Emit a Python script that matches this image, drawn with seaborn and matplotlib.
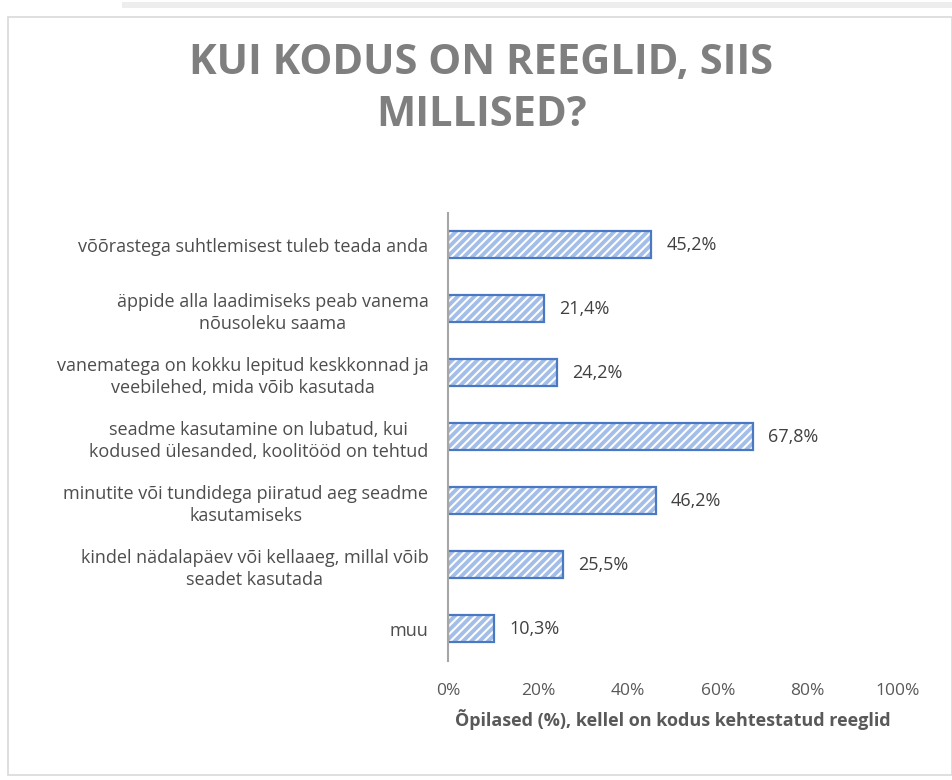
import matplotlib
matplotlib.use("Agg")
import matplotlib.pyplot as plt
import seaborn as sns
import pandas as pd
from matplotlib.patches import Rectangle

categories = [
    "võõrastega suhtlemisest tuleb teada anda",
    "äppide alla laadimiseks peab vanema\nnõusoleku saama",
    "vanematega on kokku lepitud keskkonnad ja\nveebilehed, mida võib kasutada",
    "seadme kasutamine on lubatud, kui\nkodused ülesanded, koolitööd on tehtud",
    "minutite või tundidega piiratud aeg seadme\nkasutamiseks",
    "kindel nädalapäev või kellaaeg, millal võib\nseadet kasutada",
    "muu",
]
values = [45.2, 21.4, 24.2, 67.8, 46.2, 25.5, 10.3]
xticks = [0, 20, 40, 60, 80, 100]
title = "KUI KODUS ON REEGLID, SIIS\nMILLISED?"
xlabel = "Õpilased (%), kellel on kodus kehtestatud reeglid"

df = pd.DataFrame({"cat": categories, "val": values})

sns.set_theme(style="white")
plt.rcParams["font.family"] = ["Open Sans", "DejaVu Sans"]
plt.rcParams["hatch.color"] = "white"
plt.rcParams["hatch.linewidth"] = 1.5

fig = plt.figure(figsize=(9.53, 7.80), dpi=100)
ax = fig.add_axes([0.470, 0.153, 0.472, 0.574])

# hatched fill
sns.barplot(data=df, x="val", y="cat", ax=ax, color="#A3BEE8", width=0.42,
            saturation=1, linewidth=0)
for p in ax.patches:
    p.set_hatch("////")
    p.set_edgecolor("white")
    p.set_linewidth(0)
# outline
sns.barplot(data=df, x="val", y="cat", ax=ax, fill=False, width=0.42,
            edgecolor="#4A78C2", linewidth=1.6)

labels = [f"{v:.1f}".replace(".", ",") + "%" for v in values]
ax.bar_label(ax.containers[1], labels=labels, padding=11, fontsize=13, color="#404040")

ax.set_xlim(0, 100)
ax.set_xticks(xticks)
ax.set_xticklabels([f"{t}%" for t in xticks], fontsize=12.5, color="#595959")
ax.tick_params(axis="x", length=0, pad=16)
ax.tick_params(axis="y", length=0, pad=14)
for t in ax.get_yticklabels():
    t.set_fontsize(13)
    t.set_color("#4D4D4D")
    t.set_multialignment("center")
    t.set_linespacing(1.3)
ax.set_ylabel("")
ax.set_xlabel(xlabel, fontsize=13, fontweight="bold", color="#595959", labelpad=7)
for s in ["top", "right", "bottom"]:
    ax.spines[s].set_visible(False)
ax.spines["left"].set_color("#A6A6A6")
ax.spines["left"].set_linewidth(1.5)
ax.grid(False)

fig.text(0.505, 0.885, title, ha="center", va="center", fontsize=30,
         fontweight="bold", color="#7F7F7F", linespacing=1.35,
         family=["Open Sans", "DejaVu Sans"])

fig.patches.append(Rectangle((8 / 953, 5 / 780), 944 / 953, 758 / 780,
                             transform=fig.transFigure, fill=False,
                             edgecolor="#D9D9D9", linewidth=1.2))
fig.patches.append(Rectangle((122 / 953, 772 / 780), 831 / 953, 6 / 780,
                             transform=fig.transFigure, facecolor="#EDEDED",
                             edgecolor="none"))

fig.savefig("out.png", dpi=100, facecolor="white")
